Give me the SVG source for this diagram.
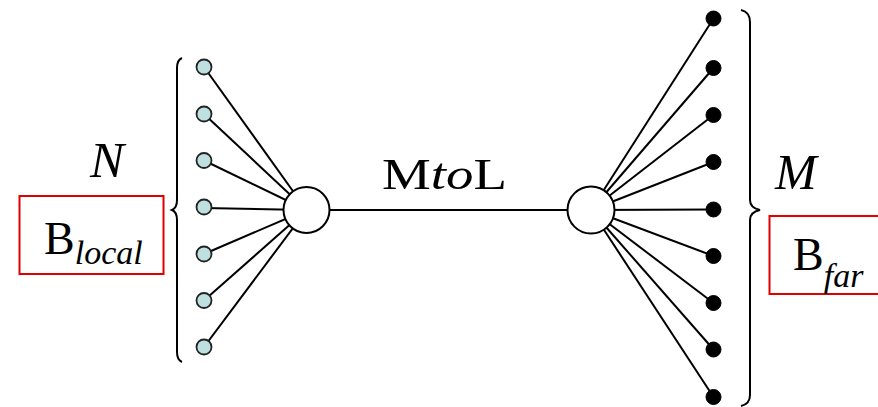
<svg xmlns="http://www.w3.org/2000/svg" width="878" height="407" viewBox="0 0 878 407">
<style>
.ln{stroke:#000;stroke-width:2;fill:none}
.br{stroke:#000;stroke-width:2;fill:none}
.hub{fill:#fff;stroke:#000;stroke-width:2}
.ld{fill:#bfe0e0;stroke:#222;stroke-width:1.8}
.rd{fill:#000;stroke:#000;stroke-width:1}
.box{fill:none;stroke:#e00000;stroke-width:2}
.t{font-family:"Liberation Serif","Times New Roman",serif;fill:#000}
.i{font-style:italic}
</style>
<rect width="878" height="407" fill="#fff"/>
<g id="connectors">
<line class="ln" x1="204" y1="67" x2="306.5" y2="210"/>
<line class="ln" x1="204" y1="114" x2="306.5" y2="210"/>
<line class="ln" x1="204" y1="160.5" x2="306.5" y2="210"/>
<line class="ln" x1="204" y1="208" x2="306.5" y2="210"/>
<line class="ln" x1="204" y1="254" x2="306.5" y2="210"/>
<line class="ln" x1="204" y1="300.5" x2="306.5" y2="210"/>
<line class="ln" x1="204" y1="347" x2="306.5" y2="210"/>
<line class="ln" x1="306.5" y1="210" x2="591" y2="210"/>
<line class="ln" x1="713.5" y1="18.5" x2="591" y2="210"/>
<line class="ln" x1="713.5" y1="68" x2="591" y2="210"/>
<line class="ln" x1="713.5" y1="115" x2="591" y2="210"/>
<line class="ln" x1="713.5" y1="162" x2="591" y2="210"/>
<line class="ln" x1="713.5" y1="209.5" x2="591" y2="210"/>
<line class="ln" x1="713.5" y1="256" x2="591" y2="210"/>
<line class="ln" x1="713.5" y1="303" x2="591" y2="210"/>
<line class="ln" x1="713.5" y1="349.5" x2="591" y2="210"/>
<line class="ln" x1="713.5" y1="397" x2="591" y2="210"/>
</g>
<g id="left-hub"><circle class="hub" cx="306.5" cy="210" r="23"/></g>
<g id="right-hub"><circle class="hub" cx="591" cy="210" r="23.5"/></g>
<g id="local-nodes">
<circle class="ld" cx="204" cy="67" r="7.5"/>
<circle class="ld" cx="204" cy="114" r="7.5"/>
<circle class="ld" cx="204" cy="160.5" r="7.5"/>
<circle class="ld" cx="204" cy="207" r="7.5"/>
<circle class="ld" cx="204" cy="254" r="7.5"/>
<circle class="ld" cx="204" cy="300.5" r="7.5"/>
<circle class="ld" cx="204" cy="347" r="7.5"/>
</g>
<g id="far-nodes">
<circle class="rd" cx="713.5" cy="18.5" r="7.5"/>
<circle class="rd" cx="713.5" cy="68" r="7.5"/>
<circle class="rd" cx="713.5" cy="115" r="7.5"/>
<circle class="rd" cx="713.5" cy="162" r="7.5"/>
<circle class="rd" cx="713.5" cy="209.5" r="7.5"/>
<circle class="rd" cx="713.5" cy="256" r="7.5"/>
<circle class="rd" cx="713.5" cy="303" r="7.5"/>
<circle class="rd" cx="713.5" cy="349.5" r="7.5"/>
<circle class="rd" cx="713.5" cy="397" r="7.5"/>
</g>
<g id="left-brace">
<path class="br" d="M182,58 Q177,60 177,68 L177,200 Q177,208 172,210 Q177,212 177,220 L177,352 Q177,360 182,362"/>
</g>
<g id="right-brace">
<path class="br" d="M741,10 Q750,12 750,22 L750,200 Q750,208 760,210 Q750,212 750,220 L750,395 Q750,404 741,406"/>
</g>
<g id="label-N"><text class="t i" x="90" y="177" font-size="51">N</text></g>
<g id="label-M"><text class="t i" x="775" y="188.5" font-size="50">M</text></g>
<g id="label-MtoL"><text class="t" x="382" y="189" font-size="45" textLength="125" lengthAdjust="spacingAndGlyphs">M<tspan class="i">to</tspan>L</text></g>
<g id="box-local">
<rect class="box" x="19.5" y="196" width="144" height="78"/>
<text class="t" x="44" y="253.5" font-size="46">B<tspan class="i" font-size="34" dy="10.5">local</tspan></text>
</g>
<g id="box-far">
<rect class="box" x="769.5" y="216" width="120" height="78"/>
<text class="t" x="793" y="270" font-size="46">B<tspan class="i" font-size="34" dy="16.5">far</tspan></text>
</g>
</svg>
